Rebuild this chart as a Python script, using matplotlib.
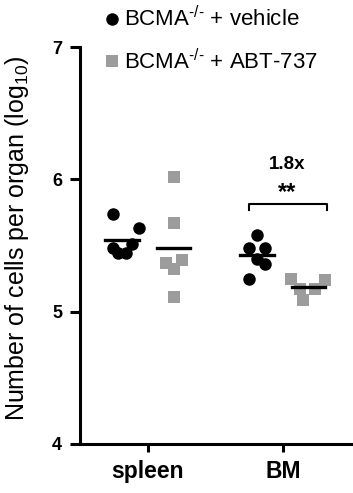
import matplotlib
matplotlib.use('Agg')
import matplotlib.pyplot as plt
from matplotlib.lines import Line2D
import numpy as np

plt.rcParams['font.family'] = ['Liberation Sans', 'DejaVu Sans']
plt.rcParams['mathtext.fontset'] = 'custom'
plt.rcParams['mathtext.rm'] = 'Liberation Sans'
plt.rcParams['mathtext.it'] = 'Liberation Sans:italic'

# data (log10 cells per organ)
organs = ['spleen', 'BM']
vehicle = [
    [5.74, 5.63, 5.48, 5.44, 5.44, 5.51],
    [5.58, 5.48, 5.48, 5.40, 5.36, 5.25],
]
abt737 = [
    [6.02, 5.67, 5.37, 5.39, 5.32, 5.11],
    [5.25, 5.24, 5.17, 5.17, 5.09],
]
fold_label = '1.8x'
sig_label = '**'

# horizontal scatter offsets (layout only)
jit_veh = [[-0.07, 0.12, -0.07, -0.03, 0.03, 0.07],
           [0.0, -0.06, 0.06, 0.0, 0.06, -0.06]]
jit_abt = [[0.0, 0.0, -0.06, 0.06, 0.0, 0.0],
           [-0.13, 0.12, -0.06, 0.05, -0.04]]

grey = '#9c9c9c'
fig = plt.figure(figsize=(3.53, 4.93), dpi=100)
ax = fig.add_axes([80 / 353, 49 / 493, 273 / 353, 397 / 493])

for i in range(len(organs)):
    xv = i - 0.19
    xa = i + 0.19
    ax.plot(xv + np.array(jit_veh[i]), vehicle[i], 'o', color='black',
            markersize=9, markeredgewidth=0, zorder=3)
    ax.plot(xa + np.array(jit_abt[i]), abt737[i], 's', color=grey,
            markersize=8.2, markeredgewidth=0, zorder=3)
    ax.plot([xv - 0.125, xv + 0.125], [np.mean(vehicle[i])] * 2,
            color='black', lw=2.4, zorder=4)
    ax.plot([xa - 0.125, xa + 0.125], [np.mean(abt737[i])] * 2,
            color='black', lw=2.4, zorder=4)

# significance bracket on BM
ax.plot([0.75, 0.75, 1.325, 1.325], [5.77, 5.81, 5.81, 5.77],
        color='black', lw=1.5)
ax.text(1.03, 5.90, sig_label, ha='center', va='center',
        fontsize=17, fontweight='bold')
ax.text(1.03, 6.11, fold_label, ha='center', va='center',
        fontsize=13.5, fontweight='bold')

ax.set_xlim(-0.504, 1.52)
ax.set_ylim(4, 7)
ax.set_yticks([4, 5, 6, 7])
ax.set_xticks(range(len(organs)))
ax.set_xticklabels(organs, fontsize=16.5, fontweight='bold')
for lab in ax.get_yticklabels():
    lab.set_fontsize(13)
    lab.set_fontweight('bold')
ax.spines['top'].set_visible(False)
ax.spines['right'].set_visible(False)
ax.spines['left'].set_linewidth(2.2)
ax.spines['bottom'].set_linewidth(2.2)
ax.tick_params(axis='y', length=7, width=2.2, pad=6)
ax.tick_params(axis='x', length=5.5, width=2.2, pad=6)
ax.set_ylabel(r'Number of cells per organ (log$_{10}$)', fontsize=18)
ax.yaxis.set_label_coords(-0.18, 0.519)

handles = [
    Line2D([], [], marker='o', color='black', ls='none', markersize=9,
           markeredgewidth=0),
    Line2D([], [], marker='s', color=grey, ls='none', markersize=8.2,
           markeredgewidth=0),
]
labels = [r'BCMA$^{\text{-/-}}$ + vehicle', r'BCMA$^{\text{-/-}}$ + ABT-737']
fig.legend(handles, labels, loc='upper left', bbox_to_anchor=(92 / 353, 1.014),
           frameon=False, fontsize=16, handlelength=0.6, handletextpad=0.25,
           labelspacing=0.78, borderaxespad=0.2)

fig.savefig('out.png', dpi=100)
